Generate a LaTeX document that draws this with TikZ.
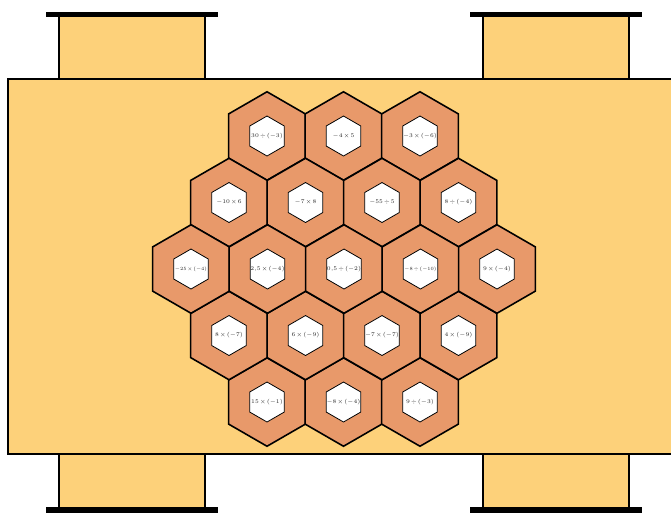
\documentclass[tikz,border=0pt]{standalone}
\usepackage{amsmath,amssymb}
\usepackage{xcolor}
\usepackage{tikz}
\usetikzlibrary{shapes.geometric,positioning}

\definecolor{tablefill}{RGB}{253,209,122}
\definecolor{hexfill}{RGB}{232,153,106}
\newcommand\cardfont{\tiny\medmuskip=2mu\relax}

\tikzset{
  bighex/.style={regular polygon,regular polygon sides=6,shape border rotate=30,
    minimum size=1.77cm,inner sep=0pt,draw=black,line width=0.9pt,fill=hexfill},
  cardhex/.style={regular polygon,regular polygon sides=6,shape border rotate=30,
    minimum size=0.8cm,inner sep=0pt,draw=black,line width=0.45pt,fill=white},
  cardtext/.style={inner sep=0pt,text=black!85,font=\cardfont,scale=0.8,transform shape},
  tinytext/.style={scale=0.68},
  chairback/.style={draw=black,line width=1.2pt,fill=tablefill},
  chairbar/.style={draw=black,line width=2.9pt},
}

\begin{document}
\begin{tikzpicture}[x=0.02cm,y=-0.02cm]
\clip (0,0) rectangle (671,512);
% chairs, top and bottom
\foreach \cx in {59,483}{
  \draw[chairback] (\cx,16) rectangle ++(146,63);
  \draw[chairbar] (\cx-13,14.5) -- ++(172,0);
  \draw[chairback] (\cx,454) rectangle ++(146,56);
  \draw[chairbar] (\cx-13,510) -- ++(172,0);
}
% the table
\draw[line width=1.4pt,fill=tablefill] (8,79) rectangle (690,454);
% the board
\foreach \i in {0,1,2}{
  \node[bighex] (hex-0-\i) at ({267+76.5*\i},136) {};
  \node[bighex] (hex-4-\i) at ({267+76.5*\i},402) {};
}
\foreach \i in {0,1,2,3}{
  \node[bighex] (hex-1-\i) at ({229+76.5*\i},202.5) {};
  \node[bighex] (hex-3-\i) at ({229+76.5*\i},335.5) {};
}
\foreach \i in {0,...,4}
  \node[bighex] (hex-2-\i) at ({191+76.5*\i},269) {};
% the cards
\foreach \r/\i/\lbl/\sty in {
    0/0/{$30\div(-3)$}/cardtext, 0/1/{$-4\times5$}/cardtext, 0/2/{$-3\times(-6)$}/cardtext,
    1/0/{$-10\times6$}/cardtext, 1/1/{$-7\times8$}/cardtext, 1/2/{$-55\div5$}/cardtext, 1/3/{$8\div(-4)$}/cardtext,
    2/0/{$-25\times(-4)$}/tinytext, 2/1/{$2{,}5\times(-4)$}/cardtext, 2/2/{$0{,}5\div(-2)$}/cardtext,
    2/3/{$-8\div(-10)$}/tinytext, 2/4/{$9\times(-4)$}/cardtext,
    3/0/{$8\times(-7)$}/cardtext, 3/1/{$6\times(-9)$}/cardtext, 3/2/{$-7\times(-7)$}/cardtext, 3/3/{$4\times(-9)$}/cardtext,
    4/0/{$15\times(-1)$}/cardtext, 4/1/{$-8\times(-4)$}/cardtext, 4/2/{$9\div(-3)$}/cardtext}{
  \node[cardhex] (card-\r-\i) at (hex-\r-\i) {};
  \node[cardtext,\sty] (txt-\r-\i) at (card-\r-\i) {\lbl};
}
\end{tikzpicture}
\end{document}
